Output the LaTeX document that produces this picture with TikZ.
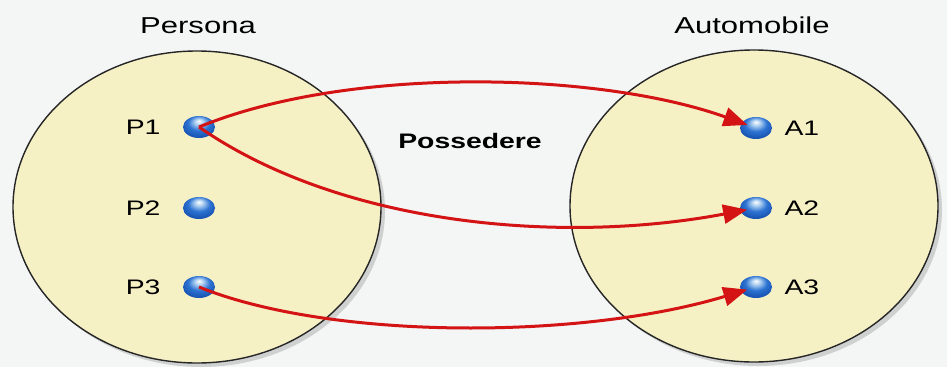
\documentclass[tikz,border=0pt]{standalone}
\usepackage{graphicx}
\usepackage{fontspec}
\setmainfont{Liberation Sans}
\usetikzlibrary{arrows.meta,shapes.geometric}
\definecolor{bg}{RGB}{244,245,245}
\definecolor{setfill}{RGB}{246,240,197}
\definecolor{arrowred}{RGB}{212,20,20}
\definecolor{dotblue}{RGB}{45,115,210}
\definecolor{dotlight}{RGB}{170,205,240}
\definecolor{dotdark}{RGB}{25,85,180}
\pgfdeclareradialshading{dotshade}{\pgfpoint{0bp}{14bp}}{%
  color(0bp)=(white); color(7bp)=(dotlight); color(17bp)=(dotblue);
  color(28bp)=(dotdark); color(50bp)=(dotdark)}
\newcommand\hs[1]{\scalebox{1.35}[1]{#1}}
\begin{document}
\begin{tikzpicture}[x=1pt,y=-1pt,
  setshape/.style={ellipse, draw=black!85, line width=1.4pt, fill=setfill,
    minimum width=368pt, minimum height=312pt, inner sep=0pt},
  setshadow/.style={ellipse, fill=black, opacity=.15,
    minimum width=368pt, minimum height=312pt, inner sep=0pt},
  elem/.style={ellipse, minimum width=32pt, minimum height=22pt, inner sep=0pt,
    shading=dotshade},
  lbl/.style={font=\fontsize{21}{21}\selectfont},
  title/.style={font=\fontsize{23}{23}\selectfont, anchor=base},
  rel/.style={draw=arrowred, line width=3pt, shorten >=9pt,
    -{Triangle[length=24pt,width=19pt]}}
]
\fill[bg] (0,0) rectangle (947,367);
\useasboundingbox (0,0) rectangle (947,367);

% sets
\node[setshadow] (sh1) at (201,211) {};
\node[setshadow] (sh2) at (758,210) {};
\node[setshape] (persona) at (197,207) {};
\node[setshape] (auto) at (754,206) {};

% titles
\node[title] (tpersona) at (198,33) {\hs{Persona}};
\node[title] (tauto) at (752,33) {\hs{Automobile}};
\node[lbl, font=\fontsize{21}{21}\selectfont\bfseries, anchor=base] (rel) at (470,148) {\hs{Possedere}};

% elements
\node[elem] (P1) at (199,127) {};
\node[elem] (P2) at (199,208) {};
\node[elem] (P3) at (199,287) {};
\node[elem] (A1) at (756,128) {};
\node[elem] (A2) at (756,208) {};
\node[elem] (A3) at (756,287) {};

% labels
\node[lbl, anchor=base east] (lP1) at (164,134) {\hs{P1}};
\node[lbl, anchor=base east] (lP2) at (164,215) {\hs{P2}};
\node[lbl, anchor=base east] (lP3) at (164,294) {\hs{P3}};
\node[lbl, anchor=base west] (lA1) at (781,135) {\hs{A1}};
\node[lbl, anchor=base west] (lA2) at (781,215) {\hs{A2}};
\node[lbl, anchor=base west] (lA3) at (781,294) {\hs{A3}};

% relations
\draw[rel] (P1.center) .. controls (350,65) and (600,72) .. (A1.center);
\draw[rel] (P1.center) .. controls (340,225) and (560,245) .. (A2.center);
\draw[rel] (P3.center) .. controls (330,340) and (580,340) .. (A3.center);
\end{tikzpicture}
\end{document}
